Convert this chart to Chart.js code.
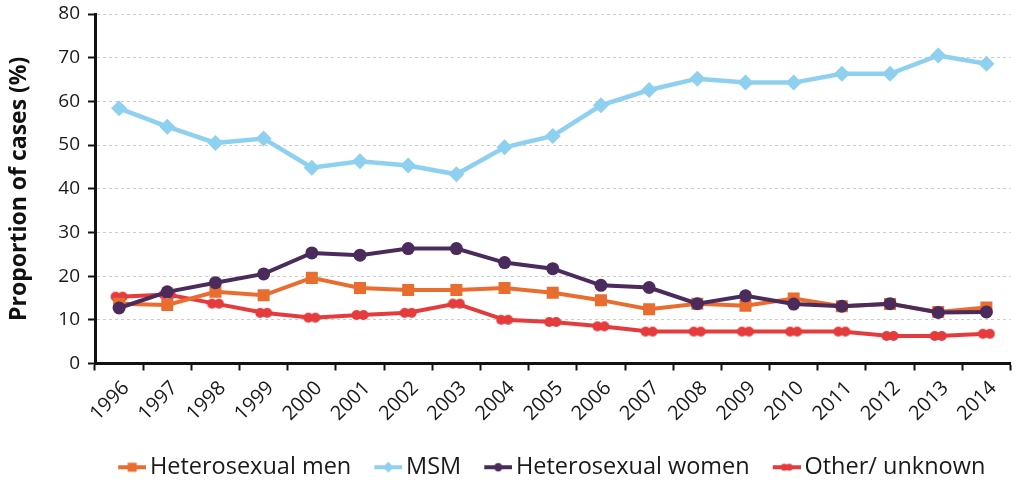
<!DOCTYPE html>
<html>
<head>
<meta charset="utf-8">
<script src="https://cdn.jsdelivr.net/npm/chart.js@4.4.1/dist/chart.umd.min.js"></script>
<style>
  html, body { margin: 0; padding: 0; background: #ffffff; }
  #wrap { width: 1019px; height: 483px; }
</style>
</head>
<body>
<div id="wrap"><canvas id="chart" width="1019" height="483"></canvas></div>
<script>
// Share of new cases by exposure group, 1996–2014 (%)
const years = ['1996','1997','1998','1999','2000','2001','2002','2003','2004','2005',
               '2006','2007','2008','2009','2010','2011','2012','2013','2014'];
const heteroMen   = [13.7, 13.4, 16.4, 15.6, 19.6, 17.3, 16.8, 16.8, 17.3, 16.2,
                     14.5, 12.4, 13.7, 13.2, 14.9, 13.1, 13.6, 11.8, 12.8];
const msm         = [58.4, 54.2, 50.5, 51.5, 44.8, 46.3, 45.3, 43.3, 49.5, 52.1,
                     59.1, 62.6, 65.2, 64.3, 64.3, 66.3, 66.3, 70.5, 68.6];
const heteroWomen = [12.7, 16.4, 18.5, 20.5, 25.3, 24.8, 26.3, 26.3, 23.1, 21.7,
                     17.9, 17.4, 13.7, 15.5, 13.6, 13.1, 13.7, 11.7, 11.8];
const otherUnknown = [15.3, 15.8, 13.7, 11.6, 10.5, 11.1, 11.6, 13.7, 10.0, 9.5,
                      8.5, 7.3, 7.3, 7.3, 7.3, 7.3, 6.3, 6.3, 6.8];
const yTicks = [0, 10, 20, 30, 40, 50, 60, 70, 80];

const COLORS = {
  men: '#EA6D30',
  msm: '#8ED0F0',
  women: '#4A2B5C',
  other: '#E53B3C'
};

const FONT = '"Open Sans", "Noto Sans", sans-serif';
const LEGEND_FONT_SIZE = 23.5;
const LEGEND_BOX = 38;

// Double-dot marker used for the "Other/ unknown" series
function doubleDot(color) {
  const c = document.createElement('canvas');
  c.width = 18; c.height = 12;
  const g = c.getContext('2d');
  g.fillStyle = color;
  [5.5, 12.5].forEach(cx => { g.beginPath(); g.arc(cx, 6, 5, 0, Math.PI * 2); g.fill(); });
  return c;
}

// Legend glyph: short line segment with a small series marker on it,
// placed at the right edge so it sits close to the label text
function legendIcon(color, shape) {
  const w = Math.round(LEGEND_BOX + LEGEND_FONT_SIZE - 8);
  const c = document.createElement('canvas');
  c.width = w; c.height = 16;
  const g = c.getContext('2d');
  const x0 = w - 28, x1 = w, cx = w - 14, cy = 8;
  g.strokeStyle = color; g.fillStyle = color; g.lineWidth = 4;
  g.beginPath(); g.moveTo(x0, cy); g.lineTo(x1, cy); g.stroke();
  g.beginPath();
  if (shape === 'rect') {
    g.rect(cx - 4.5, cy - 4.5, 9, 9);
  } else if (shape === 'diamond') {
    g.moveTo(cx, cy - 5.5); g.lineTo(cx + 5.5, cy); g.lineTo(cx, cy + 5.5); g.lineTo(cx - 5.5, cy); g.closePath();
  } else if (shape === 'circle') {
    g.arc(cx, cy, 4.2, 0, Math.PI * 2);
  } else {
    g.arc(cx - 2.5, cy, 3.6, 0, Math.PI * 2);
    g.moveTo(cx + 6.1, cy);
    g.arc(cx + 2.5, cy, 3.6, 0, Math.PI * 2);
  }
  g.fill();
  return c;
}

const legendIcons = [
  legendIcon(COLORS.men, 'rect'),
  legendIcon(COLORS.msm, 'diamond'),
  legendIcon(COLORS.women, 'circle'),
  legendIcon(COLORS.other, 'double')
];

// Nudge the legend row slightly left of the plot-area centre
const legendShift = {
  id: 'legendShift',
  afterLayout(chart) {
    if (chart.legend) {
      chart.legend.left -= 10;
      chart.legend.right -= 10;
    }
  }
};

const data = {
  labels: years,
  datasets: [
    {
      label: 'Heterosexual men', data: heteroMen, order: 1,
      borderColor: COLORS.men, backgroundColor: COLORS.men, borderWidth: 4,
      pointStyle: 'rect', pointRadius: 8.5, pointBorderWidth: 0, pointHoverRadius: 8.5
    },
    {
      label: 'MSM', data: msm, order: 3,
      borderColor: COLORS.msm, backgroundColor: COLORS.msm, borderWidth: 4.5,
      pointStyle: 'rectRot', pointRadius: 8, pointBorderWidth: 0, pointHoverRadius: 8
    },
    {
      label: 'Heterosexual women', data: heteroWomen, order: 0,
      borderColor: COLORS.women, backgroundColor: COLORS.women, borderWidth: 4,
      pointStyle: 'circle', pointRadius: 6.5, pointBorderWidth: 0, pointHoverRadius: 6.5
    },
    {
      label: 'Other/ unknown', data: otherUnknown, order: 2,
      borderColor: COLORS.other, backgroundColor: COLORS.other, borderWidth: 4,
      pointStyle: doubleDot(COLORS.other), pointRadius: 6, pointBorderWidth: 0
    }
  ]
};

new Chart(document.getElementById('chart'), {
  type: 'line',
  data: data,
  plugins: [legendShift],
  options: {
    responsive: false,
    animation: false,
    devicePixelRatio: 1,
    layout: { padding: { top: 14, right: 6, left: 0, bottom: -6 } },
    elements: { line: { tension: 0 } },
    plugins: {
      tooltip: { enabled: false },
      legend: {
        position: 'bottom',
        fullSize: false,
        labels: {
          usePointStyle: true,
          pointStyleWidth: LEGEND_BOX,
          padding: 5,
          color: '#1a1a1a',
          font: { family: FONT, size: LEGEND_FONT_SIZE },
          generateLabels(chart) {
            return chart.data.datasets.map((ds, i) => ({
              text: ds.label,
              pointStyle: legendIcons[i],
              fillStyle: ds.borderColor,
              strokeStyle: ds.borderColor,
              lineWidth: 0,
              fontColor: '#1a1a1a',
              hidden: !chart.isDatasetVisible(i),
              datasetIndex: i
            }));
          }
        }
      }
    },
    scales: {
      x: {
        offset: true,
        grid: {
          offset: true,
          drawOnChartArea: false,
          drawTicks: true,
          tickLength: 7,
          tickColor: '#111',
          tickWidth: 2
        },
        border: { display: true, color: '#111', width: 3 },
        ticks: {
          color: '#1a1a1a',
          font: { family: FONT, size: 20 },
          maxRotation: 45,
          minRotation: 45,
          autoSkip: false,
          padding: 6,
          labelOffset: 7
        },
        afterFit(scale) { scale.height = 87; }
      },
      y: {
        min: yTicks[0],
        max: yTicks[yTicks.length - 1],
        afterBuildTicks(scale) { scale.ticks = yTicks.map(v => ({ value: v })); },
        grid: {
          color: '#cccccc',
          lineWidth: 1,
          drawTicks: true,
          tickLength: 7,
          tickColor: '#111',
          tickWidth: 2,
          tickBorderDash: []
        },
        border: { display: true, color: '#111', width: 3, dash: [3, 3] },
        ticks: {
          color: '#1a1a1a',
          font: { family: FONT, size: 19 },
          padding: 8
        },
        title: {
          display: true,
          text: 'Proportion of cases (%)',
          color: '#111',
          font: { family: FONT, size: 23, weight: 'bold' },
          padding: { top: 6, bottom: 2 }
        },
        afterFit(scale) {
          scale.width = 95;
          scale.paddingTop = 0;
          scale.paddingBottom = 0;
        }
      }
    }
  }
});
</script>
</body>
</html>
